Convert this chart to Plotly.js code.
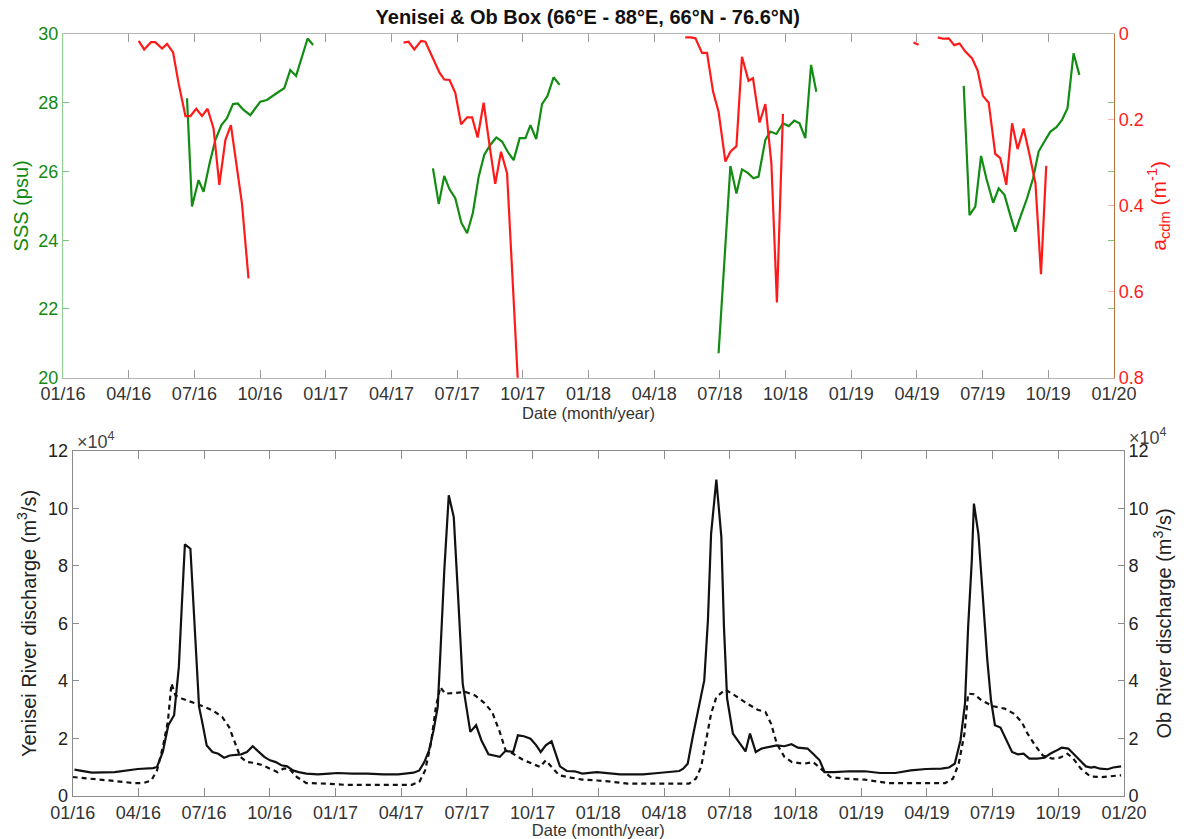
<!DOCTYPE html>
<html>
<head>
<meta charset="utf-8">
<script src="https://cdn.plot.ly/plotly-3.0.1.min.js"></script>
<style>html,body{margin:0;padding:0;background:#fff;}#chart{width:1197px;height:839px;}</style>
</head>
<body>
<div id="chart"></div>
<script>
// ---------- tick labels ----------
const tickLabels = ["01/16","04/16","07/16","10/16","01/17","04/17","07/17","10/17","01/18","04/18","07/18","10/18","01/19","04/19","07/19","10/19","01/20"];

// ---------- top panel: SSS (psu), decimal year ----------
const sssYear = [
  2016.472,2016.491,2016.516,2016.535,2016.558,2016.580,2016.603,2016.624,2016.647,2016.665,2016.687,2016.713,2016.732,2016.751,2016.776,2016.802,2016.821,2016.842,2016.865,2016.887,2016.910,2016.931,2016.952,
  null,
  2017.408,2017.430,2017.451,2017.471,2017.493,2017.516,2017.538,2017.560,2017.582,2017.603,2017.626,2017.649,2017.671,2017.692,2017.715,2017.738,2017.760,2017.779,2017.801,2017.823,2017.844,2017.867,2017.890,
  null,
  2018.495,2018.540,2018.563,2018.584,2018.606,2018.628,2018.647,2018.673,2018.692,2018.715,2018.740,2018.762,2018.783,2018.803,2018.825,2018.847,2018.867,
  null,
  2019.428,2019.450,2019.472,2019.494,2019.514,2019.540,2019.561,2019.583,2019.605,2019.624,2019.646,2019.669,2019.692,2019.713,2019.735,2019.758,2019.781,2019.802,2019.823,2019.846,2019.868
];
const sssVal = [
  28.13,24.98,25.75,25.41,26.24,26.92,27.35,27.55,27.96,27.98,27.79,27.64,27.84,28.03,28.08,28.23,28.32,28.42,28.95,28.78,29.34,29.87,29.68,
  null,
  26.09,25.05,25.87,25.48,25.22,24.51,24.20,24.80,25.85,26.48,26.77,26.99,26.87,26.58,26.33,26.97,26.97,27.35,26.94,27.96,28.20,28.74,28.52,
  null,
  20.71,26.16,25.36,26.06,25.96,25.80,25.85,26.92,27.16,27.09,27.40,27.32,27.48,27.40,26.97,29.10,28.32,
  null,
  28.49,24.73,24.98,26.45,25.80,25.09,25.51,25.32,24.73,24.25,24.73,25.22,25.80,26.58,26.87,27.16,27.29,27.50,27.84,29.44,28.81
];

// ---------- top panel: a_cdm (m^-1) ----------
const acdmYear = [
  2016.288,2016.309,2016.335,2016.351,2016.377,2016.396,2016.419,2016.440,2016.466,2016.485,2016.507,2016.529,2016.550,2016.573,2016.595,2016.618,2016.639,2016.681,2016.706,
  null,
  2017.296,2017.315,2017.337,2017.363,2017.379,2017.395,2017.414,2017.433,2017.451,2017.471,2017.493,2017.515,2017.538,2017.557,2017.578,2017.601,2017.624,2017.645,2017.667,2017.690,2017.733,
  null,
  2018.368,2018.390,2018.407,2018.432,2018.451,2018.474,2018.495,2018.521,2018.540,2018.563,2018.584,2018.609,2018.626,2018.651,2018.673,2018.696,2018.717,2018.740,
  null,
  2019.237,2019.256,
  null,
  2019.329,2019.349,2019.371,2019.392,2019.412,2019.434,2019.460,2019.481,2019.501,2019.523,2019.548,2019.567,2019.590,2019.612,2019.633,2019.656,2019.679,2019.701,2019.722,2019.742
];
const acdmVal = [
  0.016,0.036,0.019,0.019,0.034,0.023,0.043,0.115,0.191,0.191,0.174,0.191,0.174,0.220,0.351,0.247,0.212,0.394,0.569,
  null,
  0.020,0.018,0.036,0.016,0.018,0.039,0.065,0.090,0.106,0.107,0.137,0.210,0.194,0.194,0.241,0.160,0.262,0.349,0.274,0.324,0.830,
  null,
  0.008,0.008,0.010,0.044,0.044,0.134,0.181,0.297,0.274,0.261,0.053,0.109,0.103,0.206,0.163,0.301,0.625,0.186,
  null,
  0.020,0.025,
  null,
  0.008,0.011,0.010,0.026,0.022,0.041,0.057,0.085,0.144,0.160,0.279,0.289,0.351,0.208,0.268,0.220,0.282,0.348,0.559,0.307
];

// ---------- bottom panel: Yenisei discharge (x10^4 m3/s), solid ----------
const yenYear = [
  2016.007,2016.073,2016.160,2016.248,2016.306,2016.321,2016.343,2016.364,2016.386,2016.404,2016.415,2016.427,2016.448,2016.464,2016.481,2016.493,2016.510,2016.532,2016.554,2016.576,2016.598,2016.641,2016.663,2016.685,2016.707,2016.729,2016.751,2016.773,2016.794,2016.816,2016.838,2016.860,2016.889,2016.933,2016.977,
  2017.006,2017.064,2017.122,2017.181,2017.239,2017.297,2017.319,2017.338,2017.356,2017.373,2017.389,2017.399,2017.414,2017.431,2017.450,2017.468,2017.484,2017.513,2017.535,2017.555,2017.582,2017.625,2017.647,2017.676,2017.694,2017.717,2017.742,2017.764,2017.781,2017.800,2017.822,2017.854,2017.880,2017.910,2017.939,2017.975,2017.995,
  2018.083,2018.170,2018.228,2018.286,2018.308,2018.323,2018.340,2018.359,2018.381,2018.403,2018.417,2018.429,2018.449,2018.468,2018.478,2018.490,2018.512,2018.534,2018.560,2018.577,2018.599,2018.621,2018.650,2018.679,2018.708,2018.735,2018.759,2018.796,2018.817,2018.842,2018.861,2018.897,2018.956,
  2019.014,2019.072,2019.130,2019.189,2019.247,2019.305,2019.334,2019.356,2019.378,2019.395,2019.407,2019.421,2019.429,2019.446,2019.462,2019.480,2019.494,2019.509,2019.530,2019.552,2019.574,2019.596,2019.618,2019.640,2019.669,2019.698,2019.719,2019.741,2019.763,2019.788,2019.807,2019.832,2019.855,2019.875,2019.887,2019.909,2019.938,2019.959,2019.989
];
const yenVal = [
  0.92,0.81,0.83,0.94,0.97,1.01,1.53,2.46,2.81,4.49,6.57,8.75,8.60,5.99,3.10,2.57,1.76,1.53,1.47,1.33,1.41,1.45,1.53,1.73,1.53,1.36,1.24,1.18,1.07,1.03,0.89,0.83,0.78,0.75,0.78,
  0.80,0.78,0.78,0.75,0.75,0.81,0.89,1.18,1.59,2.28,3.10,4.95,7.85,10.46,9.70,6.69,3.91,2.23,2.46,1.94,1.45,1.36,1.57,1.53,2.11,2.08,1.99,1.76,1.53,1.76,1.90,1.03,0.87,0.86,0.78,0.81,0.83,
  0.75,0.75,0.80,0.86,0.87,0.95,1.12,2.05,2.98,4.02,6.11,9.12,11.00,9.01,5.88,3.39,2.17,1.88,1.55,2.17,1.53,1.65,1.70,1.76,1.73,1.80,1.68,1.65,1.47,1.24,0.83,0.83,0.86,
  0.86,0.80,0.80,0.89,0.94,0.95,0.99,1.12,1.94,3.21,5.88,8.20,10.17,9.12,7.04,4.72,3.33,2.46,2.38,1.94,1.53,1.45,1.47,1.30,1.30,1.33,1.47,1.57,1.68,1.65,1.47,1.22,1.03,0.99,1.01,0.95,0.93,0.99,1.03
];

// ---------- bottom panel: Ob discharge (x10^4 m3/s), dotted ----------
const obYear = [
  2016.000,2016.087,2016.160,2016.233,2016.270,2016.299,2016.321,2016.343,2016.362,2016.376,2016.391,2016.415,2016.452,2016.488,2016.532,2016.569,2016.595,2016.615,2016.638,2016.663,2016.692,2016.722,2016.751,2016.780,2016.802,2016.824,2016.853,2016.889,2016.962,
  2017.035,2017.181,2017.290,2017.319,2017.341,2017.363,2017.382,2017.399,2017.417,2017.450,2017.494,2017.531,2017.567,2017.596,2017.625,2017.647,2017.676,2017.713,2017.742,2017.778,2017.800,2017.822,2017.851,2017.895,2017.939,2017.997,
  2018.039,2018.112,2018.214,2018.286,2018.345,2018.371,2018.391,2018.410,2018.429,2018.449,2018.483,2018.519,2018.563,2018.606,2018.636,2018.657,2018.679,2018.708,2018.737,2018.781,2018.817,2018.854,2018.883,2018.941,
  2019.014,2019.102,2019.189,2019.262,2019.320,2019.349,2019.371,2019.393,2019.407,2019.429,2019.458,2019.502,2019.546,2019.582,2019.611,2019.633,2019.662,2019.691,2019.727,2019.756,2019.785,2019.807,2019.836,2019.872,2019.916,2019.989
];
const obVal = [
  0.66,0.57,0.52,0.45,0.45,0.54,0.89,1.70,2.57,3.91,3.50,3.39,3.27,3.15,2.98,2.75,2.40,1.94,1.36,1.18,1.15,1.07,0.95,0.83,0.95,0.95,0.66,0.45,0.43,
  0.39,0.39,0.39,0.49,0.89,1.82,3.10,3.79,3.56,3.58,3.62,3.50,3.23,2.92,2.23,1.59,1.47,1.26,1.15,1.01,1.24,1.01,0.72,0.64,0.57,0.54,
  0.51,0.43,0.43,0.43,0.43,0.60,1.01,1.94,2.86,3.44,3.70,3.50,3.23,3.00,2.92,2.52,1.82,1.36,1.18,1.12,1.18,0.89,0.66,0.60,
  0.57,0.45,0.45,0.43,0.45,0.60,1.12,2.17,3.56,3.54,3.33,3.12,3.04,2.86,2.57,2.17,1.76,1.41,1.30,1.33,1.47,1.30,0.95,0.68,0.66,0.72
];

// ---------- styling ----------
const GREEN = '#128a12';
const GREEN_LINE = '#138c13';
const RED = '#ff1a1a';
const FONT = 'Liberation Sans, Arial, Helvetica, sans-serif';
const tickVals = tickLabels.map((_, i) => 2016 + i / 4);

const traces = [
  {x: sssYear, y: sssVal, xaxis: 'x', yaxis: 'y', type: 'scatter', mode: 'lines',
   line: {color: GREEN_LINE, width: 2.2}, connectgaps: false, hoverinfo: 'skip'},
  {x: acdmYear, y: acdmVal, xaxis: 'x', yaxis: 'y2', type: 'scatter', mode: 'lines',
   line: {color: RED, width: 2.2}, connectgaps: false, hoverinfo: 'skip'},
  {x: yenYear, y: yenVal, xaxis: 'x2', yaxis: 'y3', type: 'scatter', mode: 'lines',
   line: {color: '#111', width: 2.2}, hoverinfo: 'skip'},
  {x: obYear, y: obVal, xaxis: 'x2', yaxis: 'y4', type: 'scatter', mode: 'lines',
   line: {color: '#111', width: 2.2, dash: '5px,4px'}, hoverinfo: 'skip'}
];

const xCommon = {
  range: [2016, 2020], tickmode: 'array', tickvals: tickVals, ticktext: tickLabels,
  ticks: 'inside', ticklen: 8, tickwidth: 1, showgrid: false, zeroline: false,
  showline: true, mirror: 'ticks',
  tickfont: {family: FONT, size: 18, color: '#333'}
};

const layout = {
  width: 1197, height: 839,
  margin: {l: 63, r: 73, t: 34, b: 43},
  paper_bgcolor: '#fff', plot_bgcolor: '#fff',
  showlegend: false,
  font: {family: FONT, color: '#222'},
  title: {
    text: '<b>Yenisei & Ob Box (66°E - 88°E, 66°N - 76.6°N)</b>',
    font: {family: FONT, size: 20, color: '#111'},
    x: 0.491, xref: 'container', xanchor: 'center',
    y: 0.980, yref: 'container', yanchor: 'middle'
  },
  xaxis: Object.assign({}, xCommon, {
    domain: [0, 0.9906], anchor: 'y',
    linecolor: '#b4b4b4', tickcolor: '#9a9a9a',
    title: {text: 'Date (month/year)', standoff: 3, font: {family: FONT, size: 16.5, color: '#333'}}
  }),
  yaxis: {
    domain: [0.549, 1], anchor: 'x', range: [20, 30], dtick: 2, tick0: 20,
    ticks: 'inside', ticklen: 6, tickcolor: '#7cc77c', showgrid: false, zeroline: false,
    showline: true, linecolor: '#8fd08f', mirror: 'ticks',
    tickfont: {family: FONT, size: 18, color: GREEN},
    title: {text: 'SSS (psu)', standoff: 4, font: {family: FONT, size: 20, color: GREEN}}
  },
  yaxis2: {
    overlaying: 'y', side: 'right', anchor: 'x', range: [0.8, 0], tickvals: [0, 0.2, 0.4, 0.6, 0.8],
    ticktext: ['0', '0.2', '0.4', '0.6', '0.8'],
    ticks: 'inside', ticklen: 6, tickcolor: '#ffb0b0', showgrid: false, zeroline: false,
    showline: true, linecolor: '#c0703a',
    tickfont: {family: FONT, size: 18, color: RED},
    title: {text: 'a<sub>cdm</sub> (m<sup>-1</sup>)', standoff: 8, font: {family: FONT, size: 21, color: RED}}
  },
  xaxis2: Object.assign({}, xCommon, {
    domain: [0.0091, 1], anchor: 'y3',
    linecolor: '#8a8a8a', tickcolor: '#8a8a8a',
    title: {text: 'Date (month/year)', standoff: 3, font: {family: FONT, size: 16.5, color: '#333'}}
  }),
  yaxis3: {
    domain: [0, 0.4528], anchor: 'x2', range: [0, 12], dtick: 2, tick0: 0,
    ticks: 'inside', ticklen: 6, tickcolor: '#8a8a8a', showgrid: false, zeroline: false,
    showline: true, linecolor: '#8a8a8a',
    tickfont: {family: FONT, size: 18, color: '#222'},
    title: {text: 'Yenisei River discharge (m<sup>3</sup>/s)', standoff: 6, font: {family: FONT, size: 20, color: '#222'}}
  },
  yaxis4: {
    overlaying: 'y3', side: 'right', anchor: 'x2', range: [0, 12], dtick: 2, tick0: 0,
    ticks: 'inside', ticklen: 6, tickcolor: '#8a8a8a', showgrid: false, zeroline: false,
    showline: true, linecolor: '#8a8a8a',
    tickfont: {family: FONT, size: 18, color: '#222'},
    title: {text: 'Ob River discharge (m<sup>3</sup>/s)', standoff: 9, font: {family: FONT, size: 20, color: '#222'}}
  },
  annotations: [
    {text: '×10<sup>4</sup>', xref: 'paper', yref: 'paper', x: 0.0113, y: 0.4659,
     xanchor: 'left', yanchor: 'middle', showarrow: false, font: {family: FONT, size: 18, color: '#444'}},
    {text: '×10<sup>4</sup>', xref: 'paper', yref: 'paper', x: 1.0028, y: 0.4720,
     xanchor: 'left', yanchor: 'middle', showarrow: false, font: {family: FONT, size: 18, color: '#444'}}
  ]
};

Plotly.newPlot('chart', traces, layout, {displayModeBar: false, staticPlot: true});
</script>
</body>
</html>
